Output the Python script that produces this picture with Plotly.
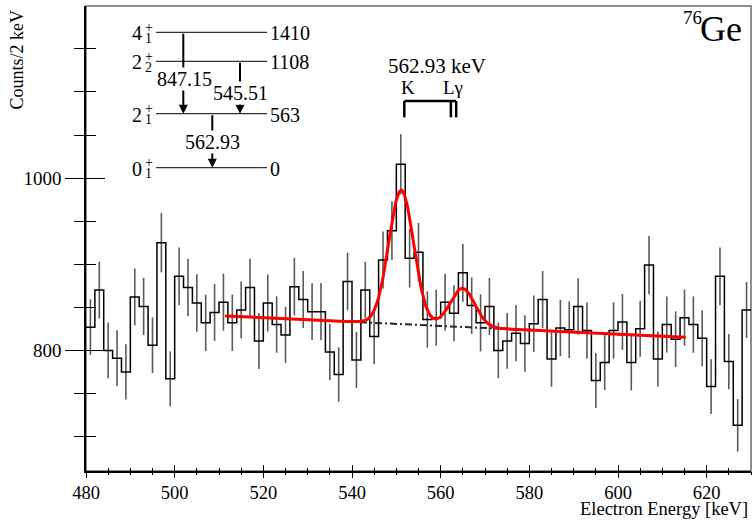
import numpy as np
import plotly.graph_objects as go

# ---------------------------------------------------------------
# Electron spectrum, 2 keV bins from 480 to 630 keV
# ---------------------------------------------------------------
bin_low_edge = 480.0
bin_width = 2.0

counts = [827, 870, 800, 791, 775, 862, 851, 806, 925, 767,
          886, 873, 855, 832, 844, 856, 832, 847, 873, 811,
          855, 830, 818, 874, 859, 845, 845, 798, 772, 880,
          789, 870, 816, 905, 939, 1016, 907, 914, 836, 838,
          856, 843, 890, 852, 832, 851, 800, 811, 820, 808,
          831, 859, 790, 826, 824, 851, 823, 765, 786, 823,
          833, 786, 825, 899, 790, 830, 813, 838, 830, 814,
          758, 886, 787, 713, 847]

count_errors = [32.3, 33.1, 32.3, 32.3, 32.1, 33.1, 33.1, 32.3, 34.4, 31.9,
                33.5, 33.5, 33.3, 32.7, 33.1, 33.1, 32.7, 32.9, 33.5, 32.5,
                33.1, 32.7, 32.7, 33.5, 33.1, 32.9, 33.3, 32.7, 31.7, 33.5,
                32.5, 32.7, 32.1, 33.1, 34.0, 35.0, 34.0, 33.9, 32.7, 32.5,
                32.9, 32.5, 33.5, 32.7, 33.1, 33.1, 32.3, 32.3, 32.7, 32.7,
                32.7, 33.1, 32.3, 32.7, 32.9, 32.7, 32.7, 31.9, 32.1, 32.7,
                32.5, 32.5, 32.5, 33.7, 31.9, 32.5, 32.3, 32.7, 32.7, 32.5,
                31.7, 33.5, 32.1, 30.5, 32.5]

# Fit model: linear background + two Gaussian conversion-electron peaks
fit_min, fit_max = 511.4, 615.2
bg_ref_energy = 511.4
bg_at_ref = 840.0
bg_slope = -0.239               # counts per keV
peak_centroids = [551.1, 564.9]
peak_amplitudes = [155.5, 44.8]
peak_sigmas = [2.8, 2.8]

# Conversion lines of the 562.93 keV transition
k_line_energy = 551.8
l_line_energies = [562.3, 563.5]

# Level scheme of 76Ge (energies in keV)
level_spins = ["4", "2", "2", "0"]
level_indices = ["1", "2", "1", "1"]
level_energies = [1410, 1108, 563, 0]
transition_from = [1410, 1108, 563]
transition_to = [563, 563, 0]
transition_labels = ["847.15", "545.51", "562.93"]

# ---------------------------------------------------------------
FIG_W, FIG_H = 752, 523
M_L, M_R, M_T, M_B = 86, 1, 6, 52
PLOT_W = FIG_W - M_L - M_R
PLOT_H = FIG_H - M_T - M_B
FONT = "Liberation Serif"


def fx(px):
    return (px - M_L) / PLOT_W


def fy(py):
    return (FIG_H - M_B - py) / PLOT_H


edges = bin_low_edge + bin_width * np.arange(len(counts) + 1)
centers = 0.5 * (edges[:-1] + edges[1:])


def background(e):
    return bg_at_ref + bg_slope * (e - bg_ref_energy)


def fit_function(e):
    y = background(e)
    for mu, a, s in zip(peak_centroids, peak_amplitudes, peak_sigmas):
        y = y + a * np.exp(-0.5 * ((e - mu) / s) ** 2)
    return y


e_fit = np.linspace(fit_min, fit_max, 800)

fig = go.Figure()

# error bars
fig.add_trace(go.Scatter(
    x=centers, y=counts, mode="markers",
    marker=dict(size=1, color="rgba(0,0,0,0)"),
    error_y=dict(type="data", array=count_errors, visible=True,
                 color="#5a5a5a", thickness=1.6, width=0),
    hoverinfo="skip", showlegend=False))

# histogram outline
fig.add_trace(go.Scatter(
    x=edges, y=counts + [counts[-1]], mode="lines",
    line=dict(shape="hv", color="black", width=1.5),
    hoverinfo="skip", showlegend=False))

# background component
fig.add_trace(go.Scatter(
    x=e_fit, y=background(e_fit), mode="lines",
    line=dict(color="#1c2838", width=2, dash="7px,3px,2px,3px"),
    hoverinfo="skip", showlegend=False))

# total fit
fig.add_trace(go.Scatter(
    x=e_fit, y=fit_function(e_fit), mode="lines",
    line=dict(color="#ff0000", width=3),
    hoverinfo="skip", showlegend=False))

# helper traces so the overlay axes exist
fig.add_trace(go.Scatter(x=[None], y=[None], xaxis="x2", yaxis="y2",
                         showlegend=False, hoverinfo="skip"))
fig.add_trace(go.Scatter(x=[None], y=[None], xaxis="x", yaxis="y3",
                         showlegend=False, hoverinfo="skip"))

x_range = [480, 630]
y_range = [660, 1199.8]

# level-scheme axis: 0 keV at 167.7 px, 0.09603 px per keV
scheme_zero_px = 167.7
scheme_px_per_kev = 0.09603
y3_range = [-(FIG_H - M_B - scheme_zero_px) / scheme_px_per_kev,
            (scheme_zero_px - M_T) / scheme_px_per_kev]

fig.update_layout(
    width=FIG_W, height=FIG_H,
    margin=dict(l=M_L, r=M_R, t=M_T, b=M_B, pad=0, autoexpand=False),
    paper_bgcolor="white", plot_bgcolor="white",
    showlegend=False,
    # main axes carry the labels; ticks point into the pad
    xaxis=dict(range=x_range, showgrid=False, zeroline=False,
               automargin=False,
               showline=True, linecolor="black", linewidth=1.5,
               tickmode="linear", tick0=480, dtick=20,
               ticks="inside", ticklen=6, tickwidth=1.2, tickcolor="black",
               minor=dict(dtick=5, tick0=480, ticks="inside", ticklen=3,
                          tickwidth=1.2, tickcolor="black"),
               tickfont=dict(family=FONT, size=18.5, color="black"),
               ticklabelstandoff=4),
    # twin axes add the outward half of each tick
    xaxis2=dict(range=x_range, overlaying="x", side="bottom",
                automargin=False,
                showgrid=False, zeroline=False, showline=False,
                showticklabels=False,
                tickmode="linear", tick0=480, dtick=20,
                ticks="outside", ticklen=6, tickwidth=1.2, tickcolor="black",
                minor=dict(dtick=5, tick0=480, ticks="outside", ticklen=3,
                           tickwidth=1.2, tickcolor="black")),
    yaxis=dict(range=y_range, showgrid=False, zeroline=False,
               automargin=False,
               showline=True, linecolor="black", linewidth=1.5,
               tickmode="linear", tick0=0, dtick=200,
               ticks="outside", ticklen=19, tickwidth=1.2, tickcolor="black",
               minor=dict(dtick=50, tick0=0, ticks="outside", ticklen=10,
                          tickwidth=1.2, tickcolor="black"),
               tickfont=dict(family=FONT, size=19, color="black")),
    yaxis2=dict(range=y_range, overlaying="y", side="left",
                automargin=False,
                showgrid=False, zeroline=False, showline=False,
                showticklabels=False,
                tickmode="linear", tick0=0, dtick=200,
                ticks="inside", ticklen=19, tickwidth=1.2, tickcolor="black",
                minor=dict(dtick=50, tick0=0, ticks="inside", ticklen=10,
                           tickwidth=1.2, tickcolor="black")),
    yaxis3=dict(range=y3_range, overlaying="y", visible=False,
                automargin=False, showgrid=False, zeroline=False),
)

shapes = []
annotations = []

# grey frame around the pad
shapes.append(dict(type="rect", xref="paper", yref="paper",
                   x0=0, x1=1, y0=0, y1=1,
                   line=dict(color="#6a6a6a", width=1.5), layer="below"))

# ---- level scheme ----
lvl_x0, lvl_x1 = fx(156), fx(267)
for spin, idx, e in zip(level_spins, level_indices, level_energies):
    shapes.append(dict(type="line", xref="paper", yref="y3",
                       x0=lvl_x0, x1=lvl_x1, y0=e, y1=e,
                       line=dict(color="#333333", width=1.2)))
    annotations.append(dict(xref="paper", yref="y3", x=fx(136.5), y=e,
                            text=spin, showarrow=False, yshift=-1,
                            xanchor="center", yanchor="middle",
                            font=dict(family=FONT, size=20, color="black")))
    annotations.append(dict(xref="paper", yref="y3", x=fx(142.5), y=e,
                            text="+", showarrow=False, yshift=5,
                            xanchor="left", yanchor="middle",
                            font=dict(family=FONT, size=14, color="black")))
    annotations.append(dict(xref="paper", yref="y3", x=fx(142.5), y=e,
                            text=idx, showarrow=False, yshift=-6,
                            xanchor="left", yanchor="middle",
                            font=dict(family=FONT, size=14, color="black")))
    annotations.append(dict(xref="paper", yref="y3", x=fx(268), y=e,
                            text=str(e), showarrow=False, yshift=-1,
                            xanchor="left", yanchor="middle",
                            font=dict(family=FONT, size=20, color="black")))

arrow_px = [183.3, 240.0, 212.3]
label_pos_px = [(184.7, 79.0), (240.0, 93.0), (212.5, 141.7)]
for e_i, e_f, xp in zip(transition_from, transition_to, arrow_px):
    annotations.append(dict(xref="paper", yref="y3", x=fx(xp), y=e_f,
                            axref="pixel", ax=0, ayref="y3", ay=e_i,
                            text="", showarrow=True, arrowhead=2,
                            arrowsize=0.9, arrowwidth=2, arrowcolor="black",
                            standoff=0, startstandoff=0))
for lab, (lx, ly) in zip(transition_labels, label_pos_px):
    annotations.append(dict(xref="paper", yref="paper", x=fx(lx), y=fy(ly),
                            text=lab, showarrow=False, bgcolor="white",
                            borderpad=0, xanchor="center", yanchor="middle",
                            font=dict(family=FONT, size=20, color="black")))

# ---- conversion-line markers ----
br_top, br_bot = fy(101), fy(117.3)
shapes.append(dict(type="line", xref="x", yref="paper",
                   x0=k_line_energy, x1=l_line_energies[-1],
                   y0=br_top, y1=br_top, line=dict(color="black", width=2.5)))
for e in [k_line_energy] + l_line_energies:
    shapes.append(dict(type="line", xref="x", yref="paper",
                       x0=e, x1=e, y0=br_top, y1=br_bot,
                       line=dict(color="black", width=2.5)))

annotations.append(dict(xref="paper", yref="paper", x=fx(437.3), y=fy(66.3),
                        text="562.93 keV", showarrow=False,
                        xanchor="center", yanchor="middle",
                        font=dict(family=FONT, size=21, color="black")))
annotations.append(dict(xref="paper", yref="paper", x=fx(408.3), y=fy(87.5),
                        text="K", showarrow=False,
                        xanchor="center", yanchor="middle",
                        font=dict(family=FONT, size=19, color="black")))
annotations.append(dict(xref="paper", yref="paper", x=fx(453.3), y=fy(87.5),
                        text="Lγ", showarrow=False,
                        xanchor="center", yanchor="middle",
                        font=dict(family=FONT, size=19, color="black")))

# ---- nucleus label ----
annotations.append(dict(xref="paper", yref="paper", x=fx(744), y=fy(29),
                        text="Ge", showarrow=False,
                        xanchor="right", yanchor="middle",
                        font=dict(family=FONT, size=36, color="black")))
annotations.append(dict(xref="paper", yref="paper", x=fx(704), y=fy(18),
                        text="76", showarrow=False,
                        xanchor="right", yanchor="middle",
                        font=dict(family=FONT, size=19, color="black")))

# ---- axis titles ----
annotations.append(dict(xref="paper", yref="paper", x=fx(750), y=fy(509),
                        text="Electron Energy [keV]", showarrow=False,
                        xanchor="right", yanchor="middle",
                        font=dict(family=FONT, size=18.5, color="black")))
annotations.append(dict(xref="paper", yref="paper", x=fx(16.5), y=fy(60),
                        text="Counts/2 keV", showarrow=False, textangle=-90,
                        xanchor="center", yanchor="middle",
                        font=dict(family=FONT, size=18, color="black")))

fig.update_layout(shapes=shapes, annotations=annotations)

fig.write_html("out.html")
